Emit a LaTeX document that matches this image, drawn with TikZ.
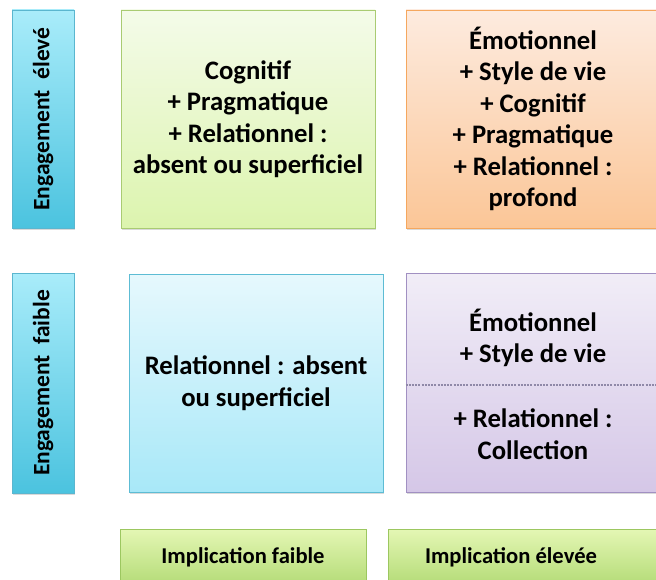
\documentclass[tikz,border=0pt]{standalone}
\usepackage{fontspec}
\setmainfont{Carlito}
\usetikzlibrary{shadows,positioning}

\definecolor{engage_top}{HTML}{A9ECFA}
\definecolor{engage_bot}{HTML}{4BC3DF}
\definecolor{engage_line}{HTML}{5AB6CF}
\definecolor{green_top}{HTML}{F4FBE9}
\definecolor{green_bot}{HTML}{DCF4AE}
\definecolor{green_line}{HTML}{A9CB72}
\definecolor{orange_top}{HTML}{FDEBDF}
\definecolor{orange_bot}{HTML}{FBC697}
\definecolor{orange_line}{HTML}{F5A75E}
\definecolor{cyan_top}{HTML}{E6F8FD}
\definecolor{cyan_bot}{HTML}{A8E8F8}
\definecolor{cyan_line}{HTML}{5DBCD4}
\definecolor{purple_top}{HTML}{F1EDF7}
\definecolor{purple_bot}{HTML}{D5C7E7}
\definecolor{purple_line}{HTML}{A190C2}
\definecolor{split_line}{HTML}{8F88A8}
\definecolor{impl_top}{HTML}{E4F7B4}
\definecolor{impl_bot}{HTML}{B4DB77}
\definecolor{impl_line}{HTML}{9CC760}

\begin{document}
\begin{tikzpicture}
    % 所有坐标按像素, y 向下
    [x=1pt, y=-1pt,
    big_font/.style={font=\bfseries\fontsize{26.7}{31.5}\selectfont},
    base_box/.style={draw, line width=0.9pt, align=center, inner sep=0pt, big_font,
        drop shadow={shadow xshift=1pt, shadow yshift=-2pt, opacity=0.3}},
    engage_box/.style={base_box, minimum width=62pt, top color=engage_top,
        bottom color=engage_bot, draw=engage_line, font=\bfseries\fontsize{23.5}{26}\selectfont},
    quad_box/.style={base_box, minimum width=254pt, minimum height=218pt},
    impl_box/.style={base_box, minimum height=56pt, top color=impl_top,
        bottom color=impl_bot, draw=impl_line, font=\bfseries\fontsize{22.6}{26}\selectfont}]
    \useasboundingbox (0, 0) rectangle (656, 580);
    \clip (0, 0) rectangle (656, 580);
    % 左侧: 参与度
    \node[engage_box, minimum height=218pt] (engage_high) at (43, 119)
        {\rotatebox{90}{Engagement~~élevé}};
    \node[engage_box, minimum height=220pt] (engage_low) at (43, 383)
        {\rotatebox{90}{Engagement~~faible}};
    % 四个象限
    \node[quad_box, top color=green_top, bottom color=green_bot, draw=green_line]
        (quad_cog) at (248, 119)
        {Cognitif\\+ Pragmatique\\+ Relationnel :\\absent ou superficiel};
    \node[quad_box, top color=orange_top, bottom color=orange_bot, draw=orange_line]
        (quad_emo) at (533, 119)
        {Émotionnel\\+ Style de vie\\+ Cognitif\\+ Pragmatique\\+ Relationnel :\\profond};
    \node[quad_box, top color=cyan_top, bottom color=cyan_bot, draw=cyan_line]
        (quad_rel) at (256, 383)
        {Relationnel : absent\\ou superficiel};
    \node[quad_box, top color=purple_top, bottom color=purple_bot, draw=purple_line,
        minimum height=219pt] (quad_col) at (533, 382.5) {};
    \coordinate (split_l) at (quad_col.west |- 0, 385);
    \coordinate (split_r) at (quad_col.east |- 0, 385);
    \draw[split_line, line width=2.6pt, dash pattern=on 2pt off 1.2pt] (split_l) -- (split_r);
    \node[big_font, align=center] (col_up) at (533, 338) {Émotionnel\\+ Style de vie};
    \node[big_font, align=center] (col_down) at (533, 434) {+ Relationnel :\\Collection};
    % 底部: 卷入度
    \node[impl_box, minimum width=246pt] (impl_low) at (243, 557) {Implication faible};
    \node[impl_box, minimum width=278pt] (impl_high) at (527, 557) {};
    \node[font=\bfseries\fontsize{22.6}{26}\selectfont] (impl_high_txt) at (511, 557)
        {Implication élevée};
\end{tikzpicture}
\end{document}
